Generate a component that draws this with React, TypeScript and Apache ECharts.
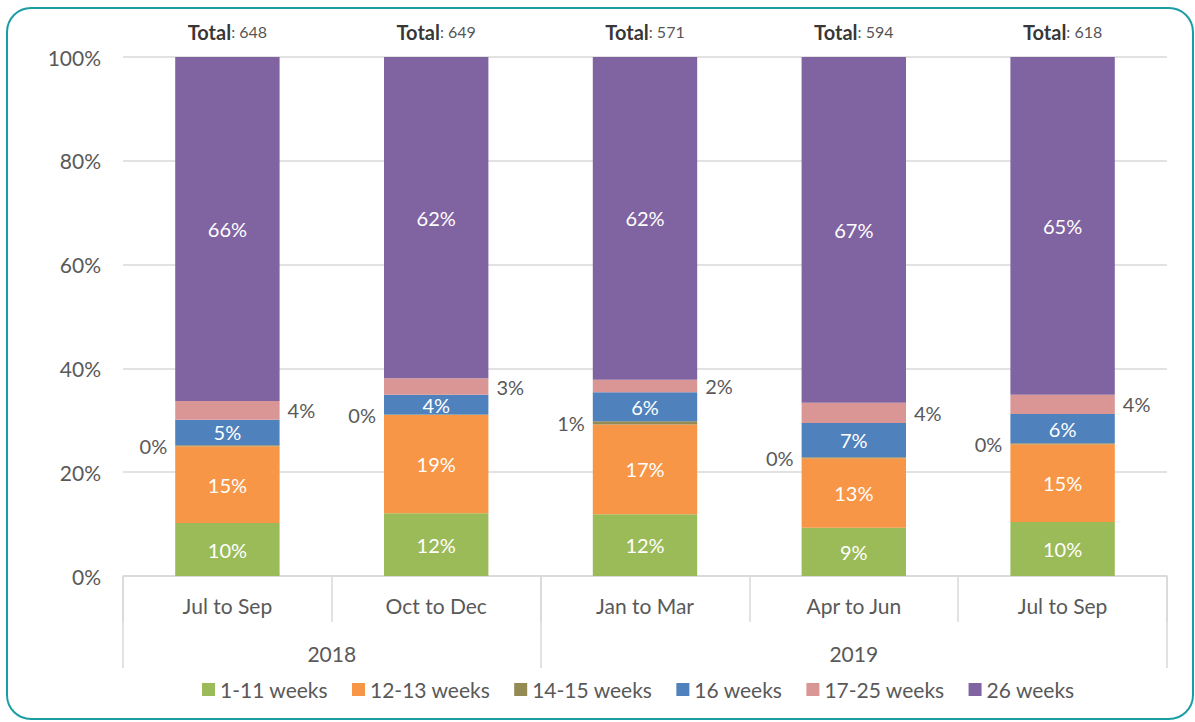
import React, { useEffect, useRef } from "react";
import * as echarts from "echarts";

const quarters = ["Jul to Sep", "Oct to Dec", "Jan to Mar", "Apr to Jun", "Jul to Sep"];
const years = ["2018", "2019"];
const yearBoundaries = [0, 2, 5];
const yearCenters = [1, 3.5];
const totals = [648, 649, 571, 594, 618];

const w1to11 = [10.2, 12.1, 11.9, 9.3, 10.4];
const w12to13 = [14.8, 18.9, 17.3, 13.4, 15.0];
const w14to15 = [0.2, 0.1, 0.6, 0.2, 0.2];
const w16 = [4.9, 3.8, 5.6, 6.6, 5.6];
const w17to25 = [3.6, 3.2, 2.4, 3.9, 3.7];
const w26 = [66.3, 61.9, 62.2, 66.6, 65.1];

const seriesNames = ["1-11 weeks", "12-13 weeks", "14-15 weeks", "16 weeks", "17-25 weeks", "26 weeks"];
const seriesColors = ["#9bbb59", "#f79646", "#948a54", "#4f81bd", "#da9694", "#8064a2"];

const FONT = "Lato";
const GREY = "#595959";

export default function App() {
  const ref = useRef<HTMLDivElement>(null);
  useEffect(() => {
    if (!ref.current) return;
    const chart = echarts.init(ref.current, null, { renderer: "svg" });
    const values = [w1to11, w12to13, w14to15, w16, w17to25, w26];
    const pct = (p: any) => Math.round(p.value) + "%";
    const barSeries = values.map((vals, i) => {
      let label: any = {
        show: true,
        position: "inside",
        color: "#ffffff",
        fontSize: 20,
        fontFamily: FONT,
        formatter: pct,
      };
      if (i === 2) label = { ...label, position: "left", color: GREY, distance: 8 };
      if (i === 4) label = { ...label, position: "right", color: GREY, distance: 8 };
      return {
        name: seriesNames[i],
        type: "bar",
        stack: "total",
        xAxisIndex: 0,
        yAxisIndex: 0,
        barCategoryGap: "50%",
        data: vals,
        itemStyle: { color: seriesColors[i] },
        label,
      };
    });
    chart.setOption({
      animation: false,
      textStyle: { fontFamily: FONT },
      graphic: [
        {
          type: "rect",
          shape: { x: 7, y: 8, width: 1186, height: 711, r: 24 },
          style: { fill: "none", stroke: "#1a9ea3", lineWidth: 2 },
          z: -1,
        },
      ],
      grid: { left: 123, right: 28, top: 57, bottom: 146, containLabel: false },
      legend: {
        data: seriesNames,
        left: 197,
        top: 674,
        itemWidth: 13,
        itemHeight: 13,
        itemGap: 24,
        icon: "rect",
        textStyle: { fontSize: 21, color: GREY, fontFamily: FONT },
      },
      xAxis: [
        {
          type: "category",
          data: quarters,
          position: "bottom",
          axisLine: { show: true, lineStyle: { color: "#d9d9d9", width: 1.5 } },
          axisTick: { show: true, interval: 0, length: 46, lineStyle: { color: "#d9d9d9", width: 1.5 } },
          axisLabel: { margin: 19, fontSize: 21, color: GREY, fontFamily: FONT, interval: 0 },
        },
        {
          type: "value",
          min: 0,
          max: 5,
          position: "bottom",
          axisLine: { show: false },
          splitLine: { show: false },
          axisTick: {
            show: true,
            customValues: yearBoundaries,
            length: 92,
            lineStyle: { color: "#d9d9d9", width: 1.5 },
          },
          axisLabel: {
            show: true,
            customValues: yearCenters,
            margin: 67,
            fontSize: 21,
            color: GREY,
            fontFamily: FONT,
            formatter: (v: number) => (v < 2 ? years[0] : years[1]),
          },
        },
      ],
      yAxis: {
        type: "value",
        min: 0,
        max: 100,
        interval: 20,
        axisLine: { show: false },
        axisTick: { show: false },
        splitLine: { lineStyle: { color: "#d9d9d9", width: 1.5 } },
        axisLabel: { formatter: "{value}%", fontSize: 21, color: GREY, fontFamily: FONT, margin: 22 },
      },
      series: [
        ...barSeries,
        {
          name: "Total",
          type: "scatter",
          xAxisIndex: 0,
          yAxisIndex: 0,
          data: totals.map(() => 100),
          symbolSize: 1,
          clip: false,
          itemStyle: { color: "rgba(0,0,0,0)" },
          label: {
            show: true,
            position: "top",
            distance: 15,
            formatter: (p: any) => "{b|Total}{n|: " + totals[p.dataIndex] + "}",
            rich: {
              b: { fontWeight: "bold", fontSize: 20, color: "#000000", fontFamily: FONT },
              n: { fontSize: 16, color: "#262626", fontFamily: FONT },
            },
          },
        },
      ],
    });
    return () => chart.dispose();
  }, []);
  return <div ref={ref} style={{ position: "fixed", left: 0, top: 0, width: 1195, height: 722, background: "#fff" }} />;
}
